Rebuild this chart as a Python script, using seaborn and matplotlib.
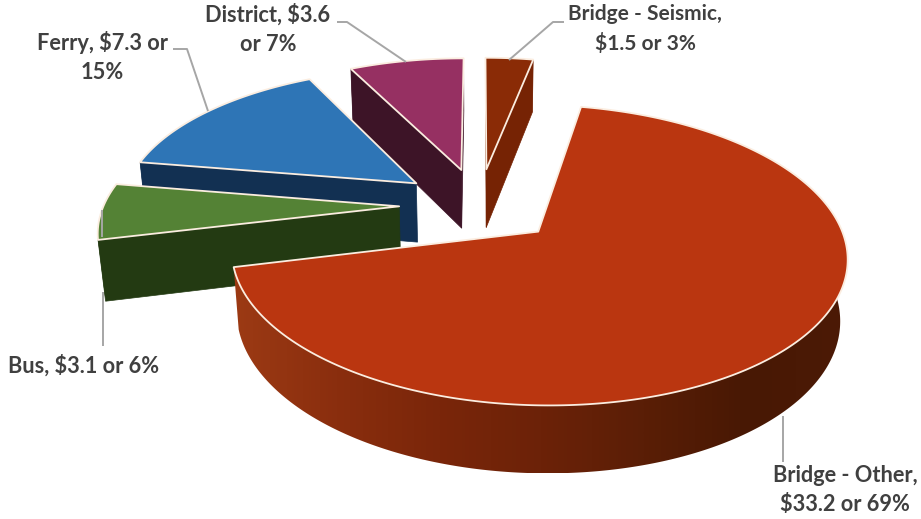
import numpy as np
import matplotlib
matplotlib.use("Agg")
import matplotlib.pyplot as plt
from matplotlib.patches import Polygon
import seaborn as sns

# Capital spending by program, $ millions, clockwise from twelve o'clock
categories = ["Bridge - Seismic", "Bridge - Other", "Bus", "Ferry", "District"]
amounts = [1.5, 33.2, 3.1, 7.3, 3.6]
labels = ["Bridge - Seismic,\n$1.5 or 3%", "Bridge - Other,\n$33.2 or 69%",
          "Bus, $3.1 or 6%", "Ferry, $7.3 or\n15%", "District, $3.6\nor 7%"]
top_colors = ["#8A2B06", "#BA3610", "#548235", "#2E75B6", "#963062"]
cut_colors = ["#762304", "#5A1E08", "#233A12", "#123052", "#3D1427"]
# Rim shading, left to right across each slice
wall_stops = [["#762304", "#762304"],
              ["#9C3A14", "#8A2E0E", "#7A260A", "#6C2208", "#5A1E06", "#481804", "#4C1A06"],
              ["#233A12", "#233A12"], ["#123052", "#123052"], ["#3D1427", "#3D1427"]]
label_xy = [(645, 29), (845, 490), (83.5, 366), (102, 57), (268, 29)]
label_sizes = [15.0, 15.7, 15.7, 15.7, 15.7]
draw_order = [0, 4, 3, 2, 1]

# Pie geometry: unit radius, slice pull-out and wall height in radii
EXPLODE = 0.27
HEIGHT = 0.238

# Camera looking down on the pie
ELEV = np.radians(28.4)
DIST = 5.79
FOCAL = 1685.0
X_STRETCH = 1.015
CX, CY = 479.0, 205.0
EDGE = "#FBEDE0"
LEADER = "#A6A6A6"
TEXT = "#404040"

sns.set_theme(style="white")
plt.rcParams["font.family"] = ["Lato", "DejaVu Sans"]


def project(x, y, z):
    """Perspective projection of pie coordinates to canvas pixels."""
    x, y, z = np.asarray(x, float), np.asarray(y, float), np.asarray(z, float)
    depth = DIST + y * np.cos(ELEV) - z * np.sin(ELEV)
    up = y * np.sin(ELEV) + z * np.cos(ELEV)
    return CX + X_STRETCH * FOCAL * x / depth, CY - FOCAL * up / depth


def faces_camera(nx, ny, px, py):
    """True when a vertical face with outward normal (nx, ny) at (px, py) is seen."""
    cam_y = -DIST * np.cos(ELEV)
    return nx * (0 - px) + ny * (cam_y - py) > 0


fig = plt.figure(figsize=(9.21, 5.19), dpi=100, facecolor="white")
ax = fig.add_axes([0, 0, 1, 1])

edges = np.cumsum([0] + amounts) / sum(amounts) * 2 * np.pi

for z_base, i in enumerate(draw_order):
    a0, a1 = edges[i], edges[i + 1]
    mid = (a0 + a1) / 2
    ox, oy = EXPLODE * np.sin(mid), EXPLODE * np.cos(mid)
    theta = np.linspace(a0, a1, max(24, int(np.degrees(a1 - a0)) * 2))
    arc_x, arc_y = ox + np.sin(theta), oy + np.cos(theta)
    zo = 2 + z_base
    zeros, low = np.zeros_like(arc_x), np.full_like(arc_x, -HEIGHT)

    # Rim wall: a horizontal gradient clipped to the band between the two arcs
    tx, ty = project(arc_x, arc_y, zeros)
    bx, by = project(arc_x, arc_y, low)
    band = Polygon(np.column_stack([np.r_[tx, bx[::-1]], np.r_[ty, by[::-1]]]),
                   closed=True, facecolor="none", edgecolor="none",
                   transform=ax.transData)
    ax.add_patch(band)
    cmap = sns.blend_palette(wall_stops[i], as_cmap=True)
    x_lo, x_hi = min(tx.min(), bx.min()), max(tx.max(), bx.max())
    y_lo, y_hi = min(ty.min(), by.min()), max(ty.max(), by.max())
    img = ax.imshow(np.linspace(0, 1, 512)[None, :], cmap=cmap, aspect="auto",
                    extent=(x_lo, x_hi, y_hi, y_lo), interpolation="bilinear",
                    zorder=zo)
    img.set_clip_path(band)

    # Radial cut faces, only those turned toward the camera
    ax_top, ay_top = project(ox, oy, 0.0)
    ax_low, ay_low = project(ox, oy, -HEIGHT)
    normals = {0: (-np.cos(a0), np.sin(a0)), -1: (np.cos(a1), -np.sin(a1))}
    for end, (nx, ny) in normals.items():
        if not faces_camera(nx, ny, ox, oy):
            continue
        face = [(float(ax_top), float(ay_top)), (tx[end], ty[end]),
                (bx[end], by[end]), (float(ax_low), float(ay_low))]
        ax.add_patch(Polygon(face, closed=True, facecolor=cut_colors[i],
                             edgecolor=cut_colors[i], lw=0.5, zorder=zo))

    # Top face with its pale outline
    outline = [(float(ax_top), float(ay_top))] + list(zip(tx, ty))
    ax.add_patch(Polygon(outline, closed=True, facecolor=top_colors[i],
                         edgecolor=EDGE, lw=1.3, joinstyle="round", zorder=zo))

ax.set_xlim(0, 921)
ax.set_ylim(519, 0)
ax.set_aspect("auto")
ax.axis("off")

# Leader lines from the labels to their slices
leaders = [[(509, 60), (553, 22), (564, 22)],
           [(783, 416), (783, 462)],
           [(102, 210), (102, 237)],
           [(103, 292), (103, 346)],
           [(208, 111), (187, 49), (173, 49)],
           [(406, 62), (347, 22), (337, 22)]]
for path in leaders:
    xs, ys = zip(*path)
    ax.plot(xs, ys, color=LEADER, lw=1.4, zorder=20, solid_capstyle="butt")

for text, (x, y), size in zip(labels, label_xy, label_sizes):
    ax.text(x, y, text, ha="center", va="center", fontsize=size,
            fontweight="bold", color=TEXT, linespacing=1.5, zorder=21)

fig.savefig("out.png", dpi=100, facecolor="white")
